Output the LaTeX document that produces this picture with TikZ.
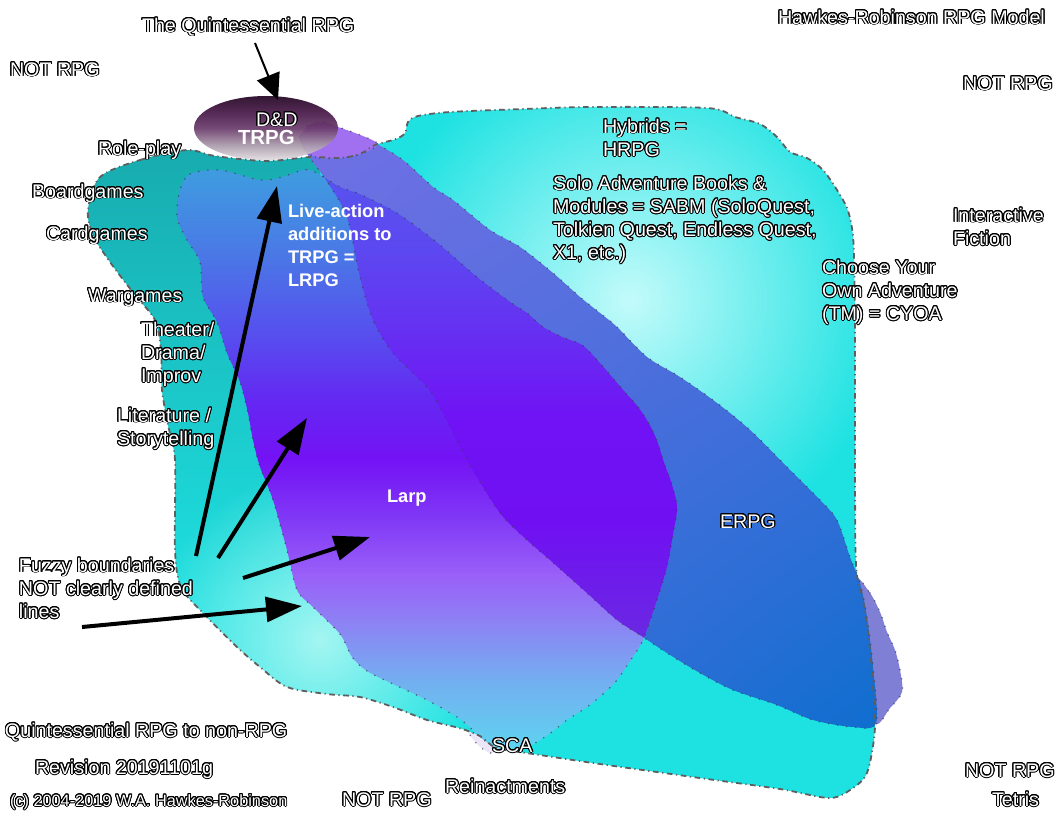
\documentclass[tikz,border=0pt]{standalone}
\usepackage{fontspec}
\setmainfont{Liberation Sans}
\usepackage{contour}
\contourlength{0.7pt}
\contournumber{20}
\usetikzlibrary{arrows.meta,fadings,shadings}

\definecolor{cyanbase}{HTML}{1EE2E2}
\definecolor{tealtop}{HTML}{17A6AA}
\definecolor{hiA}{HTML}{C4FBFB}
\definecolor{hiB}{HTML}{A4F6F2}
\definecolor{bumpc}{HTML}{7F7FD6}
\definecolor{lavc}{HTML}{A070F0}
\definecolor{slivc}{HTML}{ECE6F8}
\definecolor{edgegray}{HTML}{5E5E5E}
\definecolor{dotc}{HTML}{3A3A55}
% Larp stops
\definecolor{la}{HTML}{3F9AE0}
\definecolor{lb}{HTML}{4A78E6}
\definecolor{lc}{HTML}{5650EE}
\definecolor{ld}{HTML}{6428F2}
\definecolor{le}{HTML}{7412F5}
\definecolor{lf}{HTML}{8038F6}
\definecolor{lg}{HTML}{9A60F8}
\definecolor{lh}{HTML}{8C84F4}
\definecolor{li}{HTML}{72B0F0}
\definecolor{lj}{HTML}{5ED4F0}
% overlap stops
\definecolor{oa}{HTML}{5656EE}
\definecolor{ob}{HTML}{5C48F0}
\definecolor{oc}{HTML}{6630F2}
\definecolor{od}{HTML}{7012F5}
\definecolor{oe}{HTML}{7010F2}
\definecolor{of}{HTML}{6A2AE2}
% ERPG corners
\definecolor{eul}{HTML}{7070E4}
\definecolor{eur}{HTML}{5C6EE0}
\definecolor{ell}{HTML}{4A6EDC}
\definecolor{elr}{HTML}{0E6ECF}
% ellipse stops
\definecolor{dda}{HTML}{220422}
\definecolor{ddb}{HTML}{481848}
\definecolor{ddc}{HTML}{6A3A6A}
\definecolor{ddd}{HTML}{A898A8}
\definecolor{dde}{HTML}{E2DEE2}

\pgfdeclareverticalshading{larpsh}{100bp}{color(0bp)=(lj); color(25bp)=(lj); color(30.9bp)=(li); color(35.9bp)=(lh); color(40.1bp)=(lg); color(45.1bp)=(lf); color(50.1bp)=(le); color(55.2bp)=(ld); color(61bp)=(lc); color(67.7bp)=(lb); color(74.4bp)=(la); color(100bp)=(la)}
\pgfdeclareverticalshading{ovsh}{100bp}{color(0bp)=(of); color(32.2bp)=(of); color(42.2bp)=(oe); color(50.6bp)=(od); color(58.1bp)=(oc); color(64.8bp)=(ob); color(73.2bp)=(oa); color(100bp)=(oa)}
\pgfdeclareverticalshading{ddsh}{100bp}{color(0bp)=(dde); color(25bp)=(dde); color(37bp)=(ddd); color(50bp)=(ddc); color(62bp)=(ddb); color(75bp)=(dda); color(100bp)=(dda)}

\tikzfading[name=softc, inner color=transparent!0, outer color=transparent!100]

\newcommand\outl[1]{\contour{black}{#1}}
\newcommand\mlines[1]{\vtop{\baselineskip=16.4pt\lineskiplimit=-20pt\lineskip=0pt #1}}
\newcommand\lblfont{\fontsize{14pt}{16.4pt}\selectfont}
\newcommand\smallfont{\fontsize{11.6pt}{14pt}\selectfont}
\newcommand\boldfont{\bfseries\fontsize{13pt}{16.4pt}\selectfont}

\def\outerP{plot[smooth cycle, tension=0.5] coordinates {(100,177) (140,160) (187,150) (215,156) (266,161) (310,157) (340,158) (360,154) (375,145) (396,139) (405,133) (408,122) (418,116) (450,112) (523,109) (590,107) (707,108) (735,117) (760,124) (777,137) (790,152) (807,158) (823,170) (837,190) (847,208) (852,228) (854,255) (855,333) (855,450) (856,565) (863,600) (870,650) (875,720) (872,752) (866,775) (853,788) (830,798) (780,789) (700,778) (600,764) (540,755) (497,748) (480,736) (459,728) (427,720) (393,707) (360,697) (327,694) (287,687) (260,667) (237,647) (203,613) (181,587) (175,550) (175,460) (168,425) (162,390) (161,350) (155,320) (135,295) (110,262) (93,235) (88,210)}}

\def\larpP{plot[smooth cycle, tension=0.5] coordinates {(180,190) (190,174) (220,170) (260,180) (282,177) (303,170) (315,172) (340,187) (362,195) (397,213) (430,237) (447,251) (477,277) (510,302) (527,313) (543,327) (562,337) (582,345) (598,361) (623,390) (638,407) (649,424) (657,441) (664,463) (671,482) (677,507) (673,534) (667,567) (657,600) (643,640) (630,661) (617,680) (603,694) (587,707) (567,720) (545,737) (520,750) (497,748) (480,737) (460,719) (427,700) (393,684) (367,671) (352,657) (340,634) (313,607) (297,590) (287,550) (273,500) (260,467) (253,440) (248,413) (240,382) (227,353) (217,322) (203,297) (200,262) (187,240) (177,217)}}

\def\erpgP{plot[smooth cycle, tension=0.5] coordinates {(300,135) (325,127) (345,130) (373,142) (403,160) (433,187) (453,200) (490,230) (520,247) (553,273) (580,297) (600,313) (617,327) (647,357) (680,377) (717,403) (750,430) (790,470) (820,500) (837,520) (850,557) (860,583) (867,617) (873,667) (876,723) (853,727) (813,720) (777,705) (733,690) (700,673) (667,653) (643,637) (617,620) (587,593) (550,560) (527,540) (500,513) (470,465) (443,413) (427,387) (393,353) (373,320) (360,277) (347,217) (328,183) (308,155)}}

\def\bumpP{plot[smooth cycle, tension=0.5] coordinates {(856,580) (870,593) (880,612) (887,632) (895,650) (900,670) (902,692) (890,708) (875,722) (866,650)}}

\def\lavP{plot[smooth cycle, tension=0.5] coordinates {(302,140) (307,126) (323,122) (338,127) (355,133) (370,139) (378,144) (372,149) (358,155) (340,158) (320,158) (306,152)}}

\def\slivP{plot[smooth cycle, tension=0.5] coordinates {(468,731) (482,737) (497,749) (490,753) (478,745)}}

\tikzset{
  lbl/.style={text=white, inner sep=0pt, outer sep=0pt, anchor=base west, font=\lblfont},
  boldlbl/.style={text=white, inner sep=0pt, outer sep=0pt, anchor=base west, font=\boldfont},
  dotedge/.style={draw=dotc, line width=0.45mm, line cap=round, dash pattern=on 0pt off 2.3mm, draw opacity=0.7},
  outedge/.style={draw=edgegray, line width=0.45mm, dash pattern=on 1.4mm off 0.9mm on 0.3mm off 0.9mm},
  bigarrow/.style={draw=black, line width=1mm, -{Triangle[length=9mm,width=6.2mm]}},
  thinarrow/.style={draw=black, line width=0.5mm, -{Triangle[length=6.5mm,width=6mm]}}
}

\begin{document}
\begin{tikzpicture}[x=0.25mm, y=-0.25mm]
\useasboundingbox (0,0) rectangle (1056,816);
\fill[white] (0,0) rectangle (1056,816);

% SCA sliver (part of the larp band outside the cyan region)
\fill[slivc] \slivP;
\draw[dotedge] \slivP;

% outer cyan region
\fill[cyanbase] \outerP;
\begin{scope}
  \clip \outerP;
  \shade[top color=tealtop, bottom color=cyanbase] (60,100) -- (320,100) -- (320,175) -- (250,300) -- (262,440) -- (292,540) -- (308,600) -- (300,620) -- (60,620) -- cycle;
  \fill[hiA, path fading=softc] (630,300) circle [radius=260];
  \fill[hiB, path fading=softc] (320,640) circle [radius=170];
\end{scope}

% bump
\fill[bumpc] \bumpP;
\draw[dotedge] \bumpP;

% ERPG band
\shade[upper left=eul, upper right=eur, lower left=ell, lower right=elr] \erpgP;

% Larp band
\shade[shading=larpsh] \larpP;
\begin{scope}
  \clip \larpP;
  \shade[shading=ovsh] \erpgP;
\end{scope}

\draw[dotedge] \erpgP;
\draw[dotedge] \larpP;

% lavender blob
\fill[lavc] \lavP;
\draw[dotedge] \lavP;

% D&D ellipse
\shade[shading=ddsh, fill opacity=0.92] (266,128) ellipse [x radius=72, y radius=32];

% outer border
\draw[outedge] \outerP;

% arrows
\coordinate (a1s) at (255,43);  \coordinate (a1e) at (278,100);
\coordinate (a2s) at (196,556); \coordinate (a2e) at (277,186);
\coordinate (a3s) at (218,558); \coordinate (a3e) at (307,418);
\coordinate (a4s) at (243,578); \coordinate (a4e) at (370,537);
\coordinate (a5s) at (82,627);  \coordinate (a5e) at (302,606);
\draw[thinarrow] (a1s) -- (a1e);
\draw[bigarrow] (a2s) -- (a2e);
\draw[bigarrow] (a3s) -- (a3e);
\draw[bigarrow] (a4s) -- (a4e);
\draw[bigarrow] (a5s) -- (a5e);

% labels
\node[lbl] (quint) at (142,32) {\outl{The Quintessential RPG}};
\node[lbl] (nottl) at (10,76) {\outl{NOT RPG}};
\node[lbl] (title) at (778,24) {\outl{Hawkes-Robinson RPG Model}};
\node[lbl] (nottr) at (963,90) {\outl{NOT RPG}};
\node[lbl] (role) at (98,155) {\outl{Role-play}};
\node[lbl] (board) at (32,198) {\outl{Boardgames}};
\node[lbl] (card) at (46,240) {\outl{Cardgames}};
\node[lbl] (war) at (88,302) {\outl{Wargames}};
\node[lbl] (theater) at (141,336) {\mlines{\hbox{\outl{Theater/}}\hbox{\outl{Drama/}}\hbox{\outl{Improv}}}};
\node[lbl] (lit) at (117,422) {\mlines{\hbox{\outl{Literature /}}\hbox{\outl{Storytelling}}}};
\node[lbl] (fuzzy) at (19,572) {\mlines{\hbox{\outl{Fuzzy boundaries}}\hbox{\outl{NOT clearly defined}}\hbox{\outl{lines}}}};
\node[lbl] (quint2) at (5,737) {\outl{Quintessential RPG to non-RPG}};
\node[lbl] (rev) at (35,774) {\outl{Revision 20191101g}};
\node[lbl, font=\smallfont] (copy) at (10,806) {\outl{(c) 2004-2019 W.A. Hawkes-Robinson}};
\node[lbl] (notb) at (342,806) {\outl{NOT RPG}};
\node[lbl] (rein) at (445,793) {\outl{Reinactments}};
\node[lbl] (sca) at (492,752) {\outl{SCA}};
\node[lbl] (notbr) at (965,777) {\outl{NOT RPG}};
\node[lbl] (tetris) at (992,806) {\outl{Tetris}};
\node[lbl] (inter) at (953,222) {\mlines{\hbox{\outl{Interactive}}\hbox{\outl{Fiction}}}};
\node[lbl] (cyoa) at (822,274) {\mlines{\hbox{\outl{Choose Your}}\hbox{\outl{Own Adventure}}\hbox{\outl{(TM) = CYOA}}}};
\node[lbl] (hybrid) at (603,133) {\mlines{\hbox{\outl{Hybrids =}}\hbox{\outl{HRPG}}}};
\node[lbl] (solo) at (553,190) {\mlines{\hbox{\outl{Solo Adventure Books \&}}\hbox{\outl{Modules = SABM (SoloQuest,}}\hbox{\outl{Tolkien Quest, Endless Quest,}}\hbox{\outl{X1, etc.)}}}};
\node[lbl] (erpg) at (720,528) {\outl{ERPG}};
\node[lbl] (dd) at (256,126) {\outl{D\&D}};
\node[boldlbl, font=\bfseries\fontsize{14.5pt}{16pt}\selectfont] (trpg) at (238,144) {TRPG};
\node[boldlbl] (live) at (288,217) {\mlines{\hbox{Live-action}\hbox{additions to}\hbox{TRPG =}\hbox{LRPG}}};
\node[boldlbl] (larp) at (387,502) {Larp};
\end{tikzpicture}
\end{document}
